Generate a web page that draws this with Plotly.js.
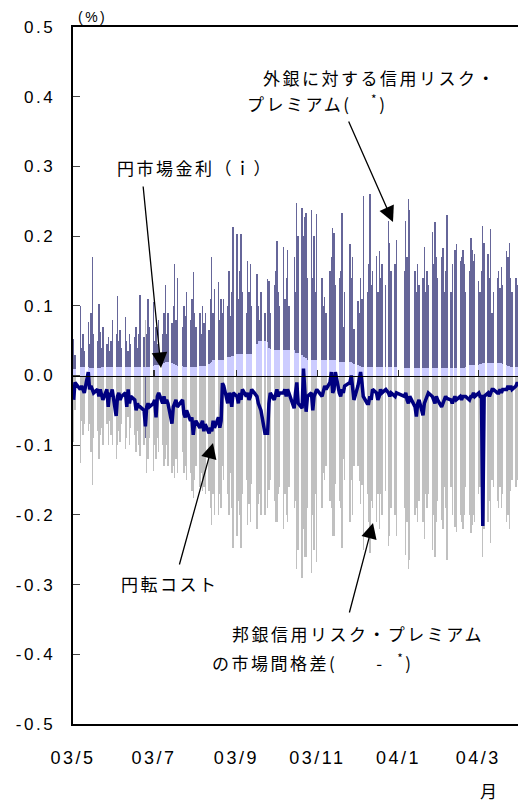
<!DOCTYPE html>
<html><head><meta charset="utf-8">
<script src="https://cdn.plot.ly/plotly-3.0.1.min.js"></script>
<style>
html,body{margin:0;padding:0;background:#fff;}
#chart{width:518px;height:803px;}
svg text{letter-spacing:2.5px;}
</style></head><body><div id="chart"></div>
<script>
// business-day calendar (Tokyo market), May 2003 - Mar 2004
const startDate = '2003-05-01';
const endDate = '2004-03-31';
const holidays = ['2003-05-05','2003-07-21','2003-09-15','2003-09-23','2003-10-13','2003-11-03','2003-11-24','2003-12-23','2003-12-31','2004-01-01','2004-01-02','2004-01-12','2004-02-11'];

// 外銀に対する信用リスク・プレミアム (%)
const foreignPremium = [
 .053,.03,.10,.04,.06,.035,.077,.045,.09,.17,.06,.05,.103,.062,.04,.07,.045,.055,.035,.05,.079,
 .06,.114,.05,.065,.04,.084,.05,.035,.06,.045,.055,.07,.04,.06,.116,.055,-.09,.06,.11,.07,.105,
 .05,.07,.045,.08,.06,.09,.13,.06,.09,.075,.10,.16,.08,.14,.07,.10,.085,.12,.08,.11,.148,.09,
 .07,.09,.06,.10,.075,.09,.065,.11,.17,.09,.124,.134,.08,.11,.09,.11,.10,.15,.085,.12,.213,
 .203,.11,.15,.203,.12,.09,.164,.12,.16,.10,.145,.10,.08,.12,.09,.138,.135,.09,.13,.15,
 .193,.12,.10,.185,.11,.14,.18,.10,.17,.12,.247,.20,.24,.20,.228,.233,.14,.237,.14,.20,.12,.231,
 .14,.10,.112,.09,.15,.17,.212,.205,.13,.14,.15,.233,.07,.12,.188,.14,.17,.067,
 .107,.09,.14,.11,.257,.12,.16,.26,.13,.15,.172,.12,.178,.14,.16,.13,.222,.19,.15,.16,.195,
 .15,.222,.17,.253,.238,.15,.12,.16,.13,.14,.184,.12,.15,.13,.206,.16,.22,.17,.14,
 .17,.183,.12,.15,.23,.12,.16,.18,.188,.165,.17,.18,.16,.12,.15,.197,.18,.165,.175,
 .135,.12,.15,.214,.19,.175,.14,.21,.09,.12,.14,.15,.125,.156,.13,.178,.17,.19,.14,.12,.14,.13,.12
];
// 円市場金利 (i)
const yenRate = [
 .010,.010,.012,.012,.012,.012,.012,.011,.011,.011,.011,.011,.011,.011,.012,.012,.012,.012,.012,.012,.012,
 .012,.012,.012,.012,.012,.012,.012,.012,.012,.012,.012,.012,.012,.012,.012,.012,.012,.012,.012,.012,.013,
 .015,.015,.015,.015,.016,.018,.020,.020,.020,.018,.017,.016,.015,.014,.013,.012,.012,.012,.012,.012,.012,.012,
 .012,.013,.013,.013,.014,.014,.016,.018,.020,.022,.022,.022,.022,.022,.022,.022,.027,.027,.027,.028,.028,
 .031,.031,.031,.031,.031,.031,.031,.031,.031,.031,.045,.050,.050,.050,.050,.048,.040,.038,.036,.036,
 .036,.036,.036,.036,.036,.036,.036,.036,.036,.033,.033,.033,.030,.027,.027,.025,.022,.022,.022,.022,.022,.022,
 .022,.022,.022,.022,.022,.022,.022,.022,.022,.020,.020,.020,.020,.020,.019,.019,.018,.016,
 .015,.013,.013,.012,.012,.012,.012,.012,.012,.012,.012,.012,.012,.012,.012,.012,.012,.012,.012,.012,.012,
 .011,.011,.011,.011,.011,.011,.011,.011,.011,.011,.011,.011,.011,.011,.011,.011,.011,.011,.011,
 .011,.011,.011,.011,.011,.011,.011,.011,.011,.011,.011,.011,.011,.012,.015,.015,.015,.015,.015,
 .015,.016,.017,.018,.018,.018,.018,.018,.018,.018,.018,.018,.018,.018,.017,.015,.014,.013,.012,.012,.012,.012,.012
];
// 邦銀信用リスク・プレミアムの市場間格差
const japanPremiumGap = [
 -.095,-.05,-.125,-.065,-.085,-.07,-.08,-.07,-.11,-.157,-.09,-.08,-.12,-.085,-.075,-.10,-.07,-.10,-.065,-.085,-.10,
 -.12,-.10,-.08,-.095,-.07,-.105,-.09,-.06,-.10,-.075,-.085,-.11,-.08,-.10,-.115,-.10,.08,-.14,-.12,-.09,-.137,
 -.10,-.12,-.09,-.11,-.10,-.13,-.12,-.10,-.13,-.14,-.13,-.147,-.12,-.14,-.11,-.14,-.13,-.15,-.14,-.165,-.176,-.15,
 -.13,-.16,-.14,-.165,-.16,-.17,-.165,-.19,-.214,-.17,-.20,-.20,-.17,-.19,-.13,-.15,-.17,-.20,-.14,-.19,-.247,
 -.23,-.18,-.20,-.247,-.17,-.15,-.215,-.185,-.21,-.155,-.22,-.185,-.17,-.20,-.20,-.19,-.164,-.15,-.18,-.21,
 -.21,-.17,-.16,-.22,-.17,-.20,-.21,-.16,-.19,-.18,-.278,-.25,-.29,-.22,-.26,-.26,-.19,-.283,-.20,-.25,-.17,-.267,
 -.19,-.14,-.15,-.13,-.18,-.19,-.23,-.23,-.155,-.18,-.19,-.247,-.12,-.15,-.21,-.15,-.20,-.13,
 -.13,-.152,-.185,-.157,-.25,-.17,-.21,-.254,-.18,-.19,-.21,-.17,-.22,-.17,-.20,-.165,-.245,-.23,-.19,-.20,-.23,
 -.19,-.257,-.21,-.278,-.264,-.20,-.19,-.21,-.18,-.21,-.235,-.17,-.19,-.17,-.25,-.20,-.26,-.21,-.18,
 -.207,-.22,-.16,-.19,-.264,-.16,-.20,-.217,-.225,-.20,-.21,-.22,-.20,-.16,-.20,-.226,-.215,-.20,-.21,
 -.17,-.16,-.19,-.26,-.22,-.21,-.18,-.24,-.15,-.16,-.18,-.19,-.16,-.19,-.17,-.21,-.20,-.22,-.165,-.15,-.16,-.15,-.14
];
// 円転コスト
const yenFundingCost = [
 -.035,-.01,-.02,-.015,-.02,-.025,.005,-.02,-.015,-.02,-.025,-.02,-.03,-.02,-.03,-.035,-.02,-.045,-.025,-.03,-.02,
 -.058,-.03,-.025,-.035,-.03,-.025,-.045,-.02,-.04,-.03,-.035,-.05,-.04,-.045,-.045,-.05,-.073,-.045,-.04,-.045,-.04,
 -.035,-.06,-.03,-.025,-.04,-.03,-.04,-.035,-.04,-.069,-.045,-.04,-.035,-.045,-.035,-.055,-.06,-.05,-.065,-.06,-.085,-.07,
 -.065,-.075,-.07,-.065,-.08,-.07,-.083,-.075,-.08,-.065,-.075,-.06,-.075,-.065,-.011,-.015,-.04,-.025,-.03,-.045,-.025,
 -.03,-.04,-.025,-.035,-.02,-.03,-.025,-.035,-.03,-.02,-.03,-.04,-.045,-.05,-.083,-.083,-.04,-.025,-.035,-.025,
 -.02,-.03,-.025,-.025,-.02,-.03,-.02,-.025,-.047,-.025,-.01,-.04,-.047,.01,-.03,-.052,-.03,-.025,-.05,-.03,-.025,-.02,
 -.03,-.02,-.015,-.02,-.01,.005,-.025,-.02,.005,-.025,-.03,-.02,-.025,-.015,-.01,0,-.025,-.035,
 -.015,-.005,.005,-.01,-.03,-.04,-.04,-.03,-.035,-.02,-.025,-.035,-.03,-.02,-.025,-.02,-.025,-.03,-.025,-.03,-.025,
 -.03,-.025,-.035,-.04,-.03,-.045,-.059,-.04,-.035,-.057,-.04,-.035,-.03,-.025,-.03,-.035,-.04,-.03,-.035,
 -.045,-.04,-.035,-.03,-.033,-.035,-.04,-.03,-.035,-.03,-.035,-.03,-.03,-.03,-.035,-.03,-.03,-.025,-.03,
 -.025,-.03,-.03,-.216,-.03,-.025,-.03,-.025,-.02,-.02,-.025,-.025,-.02,-.025,-.02,-.02,-.015,-.02,-.015,-.02,-.015,-.01,-.015
];

const xTickVals = ['2003-05-01','2003-07-01','2003-09-01','2003-11-01','2004-01-01','2004-03-01'];
const xTickText = ['03/5','03/7','03/9','03/11','04/1','04/3'];
const yTickVals = [-0.5,-0.4,-0.3,-0.2,-0.1,0,0.1,0.2,0.3,0.4,0.5];
const yTickText = ['-0.5','-0.4','-0.3','-0.2','-0.1','0.0','0.1','0.2','0.3','0.4','0.5'];

function businessDays(){
  const out = [];
  const d = new Date(startDate + 'T00:00:00Z');
  const end = new Date(endDate + 'T00:00:00Z');
  while (d <= end){
    const wd = d.getUTCDay();
    const s = d.toISOString().slice(0,10);
    if (wd !== 0 && wd !== 6 && holidays.indexOf(s) < 0) out.push(s + ' 12:00');
    d.setUTCDate(d.getUTCDate() + 1);
  }
  return out;
}
const dates = businessDays();
const DAY = 86400000;

const yTickFont = {family:'Liberation Sans, Arial, sans-serif', size:17, color:'#000'};
const xTickFont = {family:'Liberation Sans, Arial, sans-serif', size:18, color:'#000'};
const jpFont = {family:'Noto Sans CJK JP, sans-serif', size:17, color:'#000'};

const traces = [
  {type:'bar', x:dates, y:foreignPremium, width:DAY, marker:{color:'#666699', line:{width:0}}, hoverinfo:'skip', name:'外銀に対する信用リスク・プレミアム'},
  {type:'bar', x:dates, y:japanPremiumGap, width:DAY, marker:{color:'#C0C0C0', line:{width:0}}, hoverinfo:'skip', name:'邦銀信用リスク・プレミアムの市場間格差'},
  {type:'bar', x:dates, y:yenRate, width:DAY, marker:{color:'#CCCCFF', line:{width:0}}, hoverinfo:'skip', name:'円市場金利'},
  {type:'scatter', mode:'lines', x:dates, y:yenFundingCost, xaxis:'x2', yaxis:'y', line:{color:'#000080', width:3.5}, hoverinfo:'skip', name:'円転コスト'}
];

const L = 73, T = 27, W = 445, H = 697;
function px(x){ return (x - L) / W; }
function py(y){ return (T + H - y) / H; }

function label(text, x, y, anchor){
  return {text:text, xref:'paper', yref:'paper', x:px(x), y:py(y), xanchor:anchor||'left', yanchor:'middle', showarrow:false, font:jpFont};
}
function arrow(tipX, tipY, tailX, tailY){
  return {text:'', xref:'paper', yref:'paper', x:px(tipX), y:py(tipY), axref:'pixel', ayref:'pixel', ax:tailX-tipX, ay:tailY-tipY,
    showarrow:true, arrowhead:2, arrowsize:2.4, arrowwidth:1.3, arrowcolor:'#000', standoff:0};
}

const annotations = [
  label('外銀に対する信用リスク・', 261, 78),
  label('プレミアム(　<sup>*</sup>)', 245, 103),
  arrow(393, 222, 348, 120),
  label('円市場金利（ｉ）', 115, 168),
  arrow(161, 368, 143, 185),
  label('円転コスト', 119, 583),
  arrow(213, 443, 179, 566),
  label('邦銀信用リスク・プレミアム', 230, 633),
  label('の市場間格差(　　-  <sup>*</sup>)', 210, 662),
  arrow(373, 523, 349, 614),
  {text:'(%)', xref:'paper', yref:'paper', x:px(92), y:py(17), xanchor:'center', yanchor:'middle', showarrow:false, font:{family:'Liberation Sans, Arial, sans-serif', size:14, color:'#000'}},
  {text:'月', xref:'paper', yref:'paper', x:px(490), y:py(790), xanchor:'center', yanchor:'middle', showarrow:false, font:jpFont}
];

const layout = {
  width:518, height:803,
  margin:{l:L, r:0, t:T, b:803-T-H, pad:0},
  paper_bgcolor:'#fff', plot_bgcolor:'#fff',
  showlegend:false, barmode:'overlay', bargap:0,
  font:yTickFont,
  xaxis:{type:'date', range:[startDate, endDate], tickvals:xTickVals, ticktext:xTickText, ticks:'',
    showline:true, linecolor:'#000', linewidth:2, mirror:true, showgrid:false, zeroline:false,
    tickfont:xTickFont, ticklabelstandoff:16, fixedrange:true},
  xaxis2:{type:'date', overlaying:'x', anchor:'free', position:0.5, range:[startDate, endDate], tickvals:xTickVals,
    ticks:'inside', ticklen:6, tickwidth:1.2, tickcolor:'#333', showticklabels:false,
    showline:true, linecolor:'#000', linewidth:1.2, showgrid:false, zeroline:false, layer:'above traces', fixedrange:true},
  yaxis:{range:[-0.5,0.5], tickvals:yTickVals, ticktext:yTickText, ticks:'inside', ticklen:7, tickwidth:1, tickcolor:'#444',
    showline:true, linecolor:'#000', linewidth:2.5, showgrid:false, zeroline:false,
    tickfont:yTickFont, ticklabelstandoff:12, fixedrange:true},
  annotations:annotations
};

Plotly.newPlot('chart', traces, layout, {staticPlot:true, displayModeBar:false});
</script></body></html>
